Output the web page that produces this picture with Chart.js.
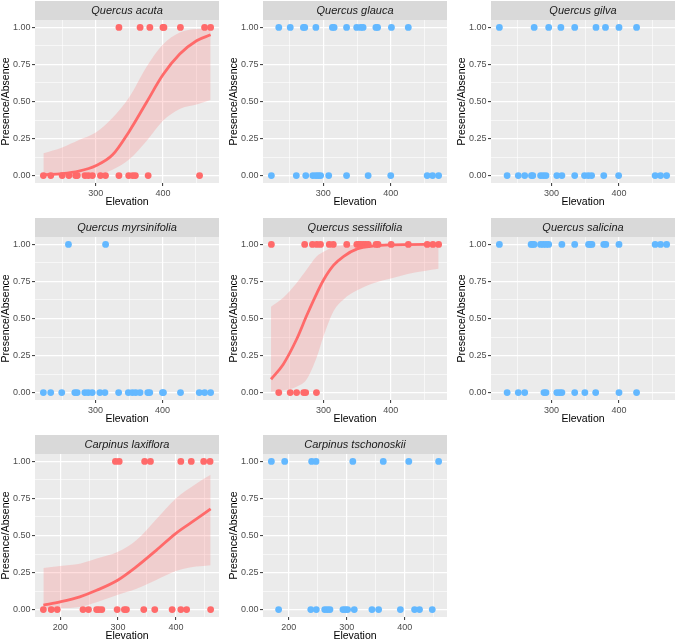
<!DOCTYPE html>
<html>
<head>
<meta charset="utf-8">
<script src="https://cdn.jsdelivr.net/npm/chart.js@4.4.1/dist/chart.umd.min.js"></script>
<style>
  body { margin: 0; background: #ffffff; overflow: hidden; width: 677px; height: 641px; position: relative; }
  canvas { position: absolute; }
</style>
</head>
<body>
<script>
// elevation of plots where the species was found (1) or not found (0)
const acutaPresent = [334.5, 366, 380.5, 400, 401.5, 426, 462, 471];
const acutaAbsent = [222, 233, 250, 260, 270, 272.5, 284, 289, 295, 307, 314.5, 334.5, 349, 355, 359, 378, 454.5];

const glaucaPresent = [234, 251, 270.5, 272.5, 289, 313.5, 316, 334.5, 349.5, 355.5, 359, 378, 380.5, 401, 426];
const glaucaAbsent = [223, 260, 274, 284.5, 289, 292.5, 296, 308, 334.5, 366.5, 400, 454, 462, 471];

const gilvaPresent = [223, 274.5, 296, 314, 334.5, 366, 380, 400, 426];
const gilvaAbsent = [234.5, 251, 260.5, 270.5, 272.5, 284, 288, 292, 308, 315.5, 334.5, 349, 354.5, 359.5, 377.5, 399.5, 453.5, 461.5, 470.5];

const myrsiPresent = [259.5, 315];
const myrsiAbsent = [222, 233, 249.5, 269, 272.5, 284, 289, 295, 306.5, 314, 334.5, 349, 355, 360, 366.5, 378, 381, 400, 401.5, 427, 455, 463, 472];

const sessiPresent = [222.5, 272, 283.5, 290, 295.5, 308.5, 314.5, 334.5, 349.5, 352.5, 355.5, 359, 362.5, 366.5, 378, 381, 400.5, 426, 454, 462.5, 471];
const sessiAbsent = [233.5, 250.5, 260, 270.5, 273.5, 289.5];

const salicPresent = [223, 270, 272, 274.5, 284, 288, 292, 296, 315.5, 334.5, 355, 357.5, 360, 377.5, 380.5, 400, 453.5, 461.5, 470.5];
const salicAbsent = [234.5, 251, 260.5, 289, 292, 308, 312, 315.5, 334.5, 349.5, 365.5, 400, 426];

const laxiPresent = [295.5, 302, 346, 356, 408.5, 426.5, 448, 459];
const laxiAbsent = [171, 184.5, 195, 239.5, 249, 263, 267, 272, 298.5, 311, 314.5, 344.5, 363.5, 393.5, 408.5, 418.5, 460];

const tschoPresent = [170, 193, 239.5, 247, 310.5, 363, 407, 458.5];
const tschoAbsent = [182.5, 238, 247.5, 262, 266.5, 271, 293.5, 297.5, 301.5, 313, 343.5, 355, 392.5, 417, 425.5, 447.5];

// fitted logistic curves and their confidence bands
const acutaFitX = [222, 250, 275, 300, 325, 350, 375, 400, 425, 450, 471];
const acutaFit = [0.006, 0.013, 0.03, 0.066, 0.14, 0.30, 0.49, 0.68, 0.82, 0.91, 0.95];
const acutaUpper = [0.15, 0.19, 0.24, 0.29, 0.39, 0.53, 0.73, 0.885, 0.965, 0.99, 0.99];
const acutaLower = [0.0, 0.001, 0.003, 0.008, 0.04, 0.11, 0.23, 0.37, 0.45, 0.48, 0.51];

const sessiFitX = [222, 240, 260, 275, 290, 300, 315, 330, 350, 375, 400, 425, 450, 471];
const sessiFit = [0.09, 0.19, 0.36, 0.52, 0.67, 0.76, 0.86, 0.92, 0.97, 0.99, 0.997, 0.999, 1.0, 1.0];
const sessiUpper = [0.58, 0.64, 0.74, 0.83, 0.92, 0.95, 0.985, 0.995, 1.0, 1.0, 1.0, 1.0, 1.0, 1.0];
const sessiLower = [0.005, 0.015, 0.04, 0.09, 0.24, 0.38, 0.55, 0.63, 0.69, 0.74, 0.77, 0.80, 0.82, 0.835];

const laxiFitX = [171, 200, 234, 263, 300, 332, 366, 400, 435, 460];
const laxiFit = [0.03, 0.052, 0.086, 0.13, 0.20, 0.29, 0.40, 0.515, 0.61, 0.68];
const laxiUpper = [0.28, 0.295, 0.31, 0.345, 0.39, 0.47, 0.61, 0.75, 0.85, 0.91];
const laxiLower = [0.007, 0.01, 0.018, 0.05, 0.10, 0.14, 0.20, 0.26, 0.29, 0.30];

// axis breaks
const yMajor = [0, 0.25, 0.5, 0.75, 1];
const yMinor = [0.125, 0.375, 0.625, 0.875];
const xMajor = [200, 300, 400];
const xMinor = [150, 250, 350, 450];

const redCol = '#FF6A6A';
const blueCol = '#63B8FF';
const bandCol = 'rgba(255,106,106,0.22)';

const panels = [
  { name: 'Quercus acuta', present: acutaPresent, absent: acutaAbsent, fit: [acutaFitX, acutaFit, acutaLower, acutaUpper] },
  { name: 'Quercus glauca', present: glaucaPresent, absent: glaucaAbsent },
  { name: 'Quercus gilva', present: gilvaPresent, absent: gilvaAbsent },
  { name: 'Quercus myrsinifolia', present: myrsiPresent, absent: myrsiAbsent },
  { name: 'Quercus sessilifolia', present: sessiPresent, absent: sessiAbsent, fit: [sessiFitX, sessiFit, sessiLower, sessiUpper] },
  { name: 'Quercus salicina', present: salicPresent, absent: salicAbsent },
  { name: 'Carpinus laxiflora', present: laxiPresent, absent: laxiAbsent, fit: [laxiFitX, laxiFit, laxiLower, laxiUpper] },
  { name: 'Carpinus tschonoskii', present: tschoPresent, absent: tschoAbsent }
];

Chart.defaults.font.family = '"Liberation Sans", Arial, sans-serif';

// grey panel + facet strip, like ggplot's theme_grey
const panelDecor = {
  id: 'panelDecor',
  beforeDraw(chart, args, opts) {
    const ctx = chart.ctx;
    const a = chart.chartArea;
    ctx.save();
    ctx.fillStyle = '#EBEBEB';
    ctx.fillRect(a.left, a.top, a.right - a.left, a.bottom - a.top);
    ctx.fillStyle = '#D9D9D9';
    ctx.fillRect(a.left, a.top - 19, a.right - a.left, 19);
    ctx.fillStyle = '#1A1A1A';
    ctx.font = 'italic 11px "Liberation Sans", Arial, sans-serif';
    ctx.textAlign = 'center';
    ctx.textBaseline = 'middle';
    ctx.fillText(opts.title, (a.left + a.right) / 2, a.top - 9);
    ctx.restore();
  }
};

function zip(xs, ys) {
  return xs.map((x, i) => ({ x: x, y: ys[i] }));
}

panels.forEach((p, i) => {
  const cv = document.createElement('canvas');
  cv.width = 228; cv.height = 217;
  cv.style.width = '228px'; cv.style.height = '217px';
  cv.style.left = (i % 3) * 228 + 'px';
  cv.style.top = Math.floor(i / 3) * 217 + 'px';
  document.body.appendChild(cv);

  const col = p.fit ? redCol : blueCol;
  const allX = p.present.concat(p.absent);
  const xmin = Math.min(...allX), xmax = Math.max(...allX);
  const pad = (xmax - xmin) * 0.05;
  const lo = xmin - pad, hi = xmax + pad;

  const pts = p.present.map(x => ({ x: x, y: 1 })).concat(p.absent.map(x => ({ x: x, y: 0 })));
  const datasets = [{
    type: 'scatter', data: pts, backgroundColor: col, borderWidth: 0, pointRadius: 3.4, order: 3
  }];
  if (p.fit) {
    const [fx, fy, flo, fhi] = p.fit;
    datasets.push({ type: 'line', data: zip(fx, flo), borderColor: 'rgba(0,0,0,0)', borderWidth: 0, pointRadius: 0, fill: false, cubicInterpolationMode: 'monotone', order: 2 });
    datasets.push({ type: 'line', data: zip(fx, fhi), borderColor: 'rgba(0,0,0,0)', borderWidth: 0, pointRadius: 0, fill: '-1', backgroundColor: bandCol, cubicInterpolationMode: 'monotone', order: 2 });
    datasets.push({ type: 'line', data: zip(fx, fy), borderColor: redCol, borderWidth: 2.8, pointRadius: 0, fill: false, cubicInterpolationMode: 'monotone', order: 1 });
  }

  const isMajorX = c => c.tick && xMajor.includes(c.tick.value);
  const isMajorY = c => c.tick && yMajor.includes(c.tick.value);

  new Chart(cv, {
    type: 'scatter',
    data: { datasets: datasets },
    plugins: [panelDecor],
    options: {
      responsive: false,
      animation: false,
      devicePixelRatio: 1,
      layout: { padding: { top: 20, right: 9, bottom: 0, left: 0 } },
      plugins: {
        legend: { display: false },
        tooltip: { enabled: false },
        panelDecor: { title: p.name }
      },
      scales: {
        x: {
          type: 'linear', min: lo, max: hi,
          afterBuildTicks: s => {
            s.ticks = xMajor.concat(xMinor).filter(v => v > lo && v < hi).sort((a, b) => a - b).map(v => ({ value: v }));
          },
          afterFit: s => { s.height = 34; },
          border: { display: false },
          grid: {
            color: '#FFFFFF',
            lineWidth: c => isMajorX(c) ? 1.2 : 0.6,
            tickLength: 3,
            tickWidth: 1,
            tickColor: c => isMajorX(c) ? '#333333' : 'rgba(0,0,0,0)'
          },
          ticks: {
            autoSkip: false, maxRotation: 0, padding: 2,
            color: '#4D4D4D', font: { size: 9 },
            callback: v => xMajor.includes(v) ? String(v) : ''
          },
          title: { display: true, text: 'Elevation', color: '#000000', font: { size: 10.5 }, padding: { top: 0, bottom: 8.7 } }
        },
        y: {
          type: 'linear', min: -0.05, max: 1.05,
          afterBuildTicks: s => {
            s.ticks = yMajor.concat(yMinor).sort((a, b) => a - b).map(v => ({ value: v }));
          },
          afterFit: s => { s.width = 35; },
          border: { display: false },
          grid: {
            color: '#FFFFFF',
            lineWidth: c => isMajorY(c) ? 1.2 : 0.6,
            tickLength: 3,
            tickWidth: 1,
            tickColor: c => isMajorY(c) ? '#333333' : 'rgba(0,0,0,0)'
          },
          ticks: {
            autoSkip: false, padding: 1.5,
            color: '#4D4D4D', font: { size: 9 },
            callback: v => yMajor.includes(v) ? v.toFixed(2) : ''
          },
          title: { display: true, text: 'Presence/Absence', color: '#000000', font: { size: 10.5 }, padding: 0 }
        }
      }
    }
  });
});
</script>
</body>
</html>
